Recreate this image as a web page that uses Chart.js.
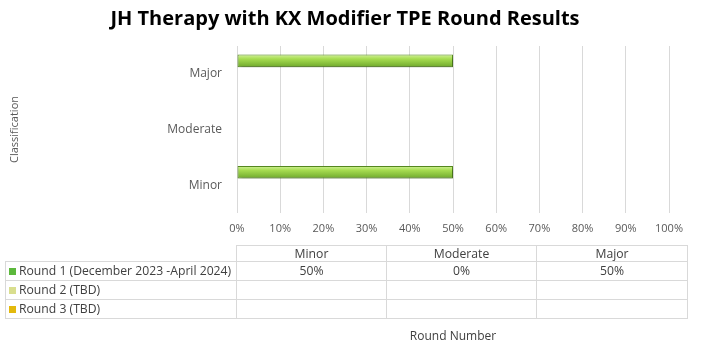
<!DOCTYPE html>
<html>
<head>
<meta charset="utf-8">
<script src="https://cdn.jsdelivr.net/npm/chart.js@4"></script>
<style>
    body { margin: 0; background: #fff; }
    #wrap { position: relative; width: 701px; height: 361px; font-family: "Open Sans", sans-serif; }
    #title { position: absolute; left: 0; top: 4px; width: 690px; text-align: center; font-weight: bold; font-size: 20px; color: #000; }
    #dataTable { position: absolute; left: 5px; top: 245px; border-collapse: collapse; font-size: 12.2px; color: #404040; }
    #dataTable td { border: 1px solid #d9d9d9; padding: 0; text-align: center; line-height: 14px; white-space: nowrap; }
    #dataTable td.name { text-align: left; padding-left: 3px; width: 227px; }
    #dataTable td.blank { border: none; border-bottom: 1px solid #d9d9d9; }
    #dataTable tr.head td { height: 15px; }
    #dataTable tr.row td { height: 18px; }
    .key { display: inline-block; width: 7px; height: 7px; margin-right: 3px; vertical-align: 0px; }
    #roundTitle { position: absolute; left: 353px; top: 327px; width: 200px; text-align: center; font-size: 12px; color: #404040; }
</style>
</head>
<body>
<div id="wrap">
    <canvas id="tpeChart" width="701" height="361"></canvas>
    <div id="title">JH Therapy with KX Modifier TPE Round Results</div>
    <table id="dataTable"></table>
    <div id="roundTitle">Round Number</div>
</div>
<script>
// Data
const categories = ['Minor', 'Moderate', 'Major'];
const seriesNames = ['Round 1 (December 2023 -April 2024)', 'Round 2 (TBD)', 'Round 3 (TBD)'];
const round1 = [50, 0, 50];
const round2 = [null, null, null];
const round3 = [null, null, null];
const xTicks = [0, 10, 20, 30, 40, 50, 60, 70, 80, 90, 100];

const keyColors = ['#5cb83c', '#d9de8e', '#e3b90c'];

// Data table under the chart
function buildTable() {
    const table = document.getElementById('dataTable');
    let html = '<tr class="head"><td class="blank" style="width:230px"></td>';
    categories.forEach((c, i) => {
        html += `<td style="width:${i === 2 ? 150 : 149}px">${c}</td>`;
    });
    html += '</tr>';
    [round1, round2, round3].forEach((vals, s) => {
        html += `<tr class="row"><td class="name"><span class="key" style="background:${keyColors[s]}"></span>${seriesNames[s]}</td>`;
        vals.forEach(v => {
            html += `<td>${v === null ? '' : v + '%'}</td>`;
        });
        html += '</tr>';
    });
    table.innerHTML = html;
}

// Glossy bar fill, using the bar positions the library computed
const glossPlugin = {
    id: 'gloss',
    beforeDatasetsDraw(chart) {
        const c = chart.ctx;
        chart.data.datasets.forEach((ds, i) => {
            chart.getDatasetMeta(i).data.forEach(bar => {
                const top = bar.y - bar.height / 2;
                const g = c.createLinearGradient(0, top, 0, top + bar.height);
                g.addColorStop(0, '#d2f29a');
                g.addColorStop(0.35, '#a6dc50');
                g.addColorStop(1, '#6ea82c');
                bar.options.backgroundColor = g;
            });
        });
    },
    beforeDatasetDraw(chart) {
        const c = chart.ctx;
        c.save();
        c.shadowColor = 'rgba(0,0,0,0.35)';
        c.shadowBlur = 3;
        c.shadowOffsetX = 1;
        c.shadowOffsetY = 2;
    },
    afterDatasetDraw(chart) {
        chart.ctx.restore();
    }
};

function makeDataset(label, data) {
    return {
        label: label,
        data: data,
        // scriptable so each bar gets its own options object
        backgroundColor: () => '#9bd447',
        borderColor: '#55881f',
        borderWidth: 1,
        borderSkipped: false,
        categoryPercentage: 0.7,
        barPercentage: 0.97
    };
}

function initializeChart() {
    const ctx = document.getElementById('tpeChart').getContext('2d');
    new Chart(ctx, {
        type: 'bar',
        data: {
            labels: categories,
            datasets: [
                makeDataset(seriesNames[0], round1),
                makeDataset(seriesNames[1], round2),
                makeDataset(seriesNames[2], round3)
            ]
        },
        plugins: [glossPlugin],
        options: {
            indexAxis: 'y',
            responsive: false,
            animation: false,
            layout: { padding: { left: 3, right: 32, top: 46, bottom: 118 } },
            plugins: {
                legend: { display: false },
                title: { display: false },
                tooltip: { enabled: false }
            },
            scales: {
                x: {
                    min: 0,
                    max: 100,
                    afterBuildTicks: scale => {
                        scale.ticks = xTicks.map(v => ({ value: v }));
                    },
                    afterFit: scale => { scale.height = 30; },
                    grid: { color: '#d9d9d9', drawTicks: false },
                    border: { display: false },
                    ticks: {
                        padding: 9,
                        color: '#595959',
                        font: { family: 'Open Sans', size: 11 },
                        callback: v => v + '%'
                    }
                },
                y: {
                    reverse: true,
                    afterFit: scale => { scale.width = 234; },
                    grid: { display: false },
                    border: { display: false },
                    ticks: {
                        padding: 7,
                        color: '#595959',
                        font: { family: 'Open Sans', size: 12 }
                    },
                    title: {
                        display: true,
                        text: 'Classification',
                        color: '#595959',
                        padding: { top: 5, bottom: 0 },
                        font: { family: 'Open Sans', size: 11 }
                    }
                }
            }
        }
    });
}

document.addEventListener('DOMContentLoaded', () => {
    buildTable();
    initializeChart();
});
</script>
</body>
</html>
